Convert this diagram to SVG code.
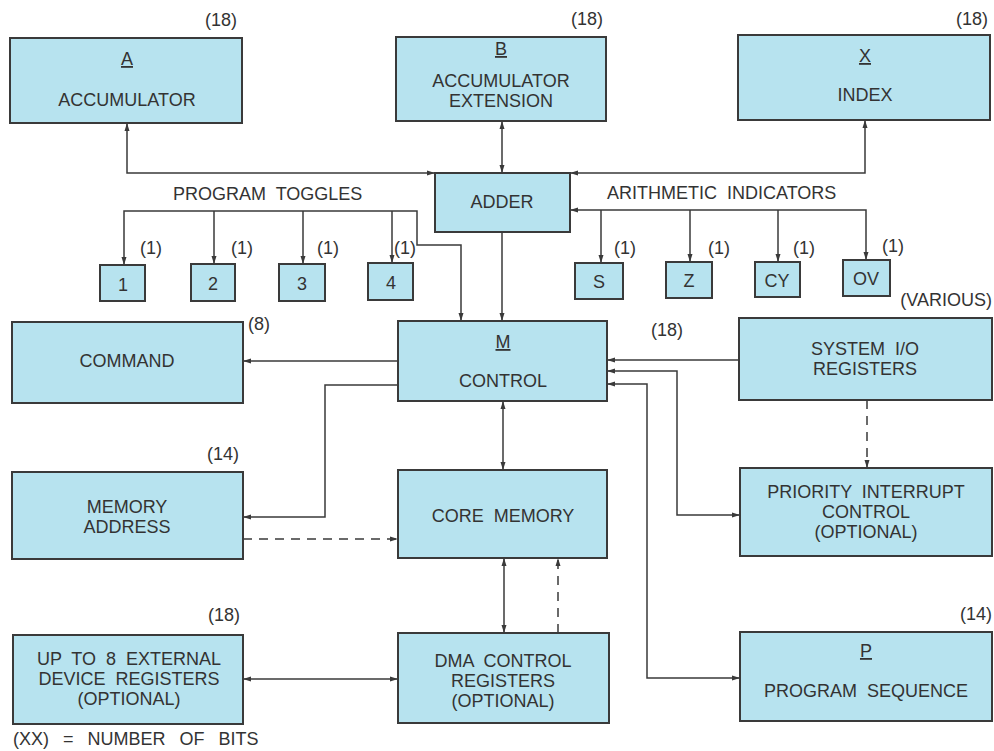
<svg xmlns="http://www.w3.org/2000/svg" width="994" height="751" viewBox="0 0 994 751">
<style>
.bx{fill:#b7e3ef;stroke:#3a3a3a;stroke-width:2}
.t{font-family:"Liberation Sans",Arial,sans-serif;font-size:18px;fill:#333;text-anchor:middle;word-spacing:5px}
.n{font-family:"Liberation Sans",Arial,sans-serif;font-size:18px;fill:#333;word-spacing:5px}
.u{text-decoration:underline}
.c{fill:none;stroke:#3a3a3a;stroke-width:1.5}
.a1{marker-end:url(#ah)}
.a2{marker-start:url(#ah);marker-end:url(#ah)}
.d{stroke-dasharray:9,7}
</style>
<defs>
<marker id="ah" markerUnits="userSpaceOnUse" markerWidth="9" markerHeight="6" refX="8" refY="3" orient="auto-start-reverse">
<path d="M0,0.5 L8,3 L0,5.5 z" fill="#3a3a3a"/>
</marker>
</defs>
<rect width="994" height="751" fill="#fff"/>
<g id="connectors">
<path class="c a2" d="M127,123 V173 H435"/>
<path class="c a2" d="M502,121 V173"/>
<path class="c a2" d="M865,120 V173 H570"/>
<path class="c a2" d="M124,265 V211 H417 V245 H461 V321"/>
<path class="c a1" d="M214,211 V264"/>
<path class="c a1" d="M303,211 V264"/>
<path class="c a1" d="M392,211 V263"/>
<path class="c a2" d="M866,260 V210 H570"/>
<path class="c a1" d="M601,210 V263"/>
<path class="c a1" d="M690,210 V262"/>
<path class="c a1" d="M778,210 V262"/>
<path class="c a1" d="M502,232 V321"/>
<path class="c a1" d="M398,361 H243"/>
<path class="c a1" d="M398,385 H325 V517 H243"/>
<path class="c a1 d" d="M243,539 H398"/>
<path class="c a2" d="M503,401 V470"/>
<path class="c a2" d="M504,558 V633"/>
<path class="c a1 d" d="M558,633 V558"/>
<path class="c a2" d="M243,679 H398"/>
<path class="c a1" d="M739,360 H607"/>
<path class="c a2" d="M607,371 H677 V515 H740"/>
<path class="c a2" d="M607,384 H647 V678 H740"/>
<path class="c a1 d" d="M867,400 V468"/>
</g>
<g id="A"><rect class="bx" x="10" y="38" width="232" height="85"/><text class="t u" x="127" y="65">A</text><text class="t" x="127" y="106">ACCUMULATOR</text><text class="n" x="205" y="26">(18)</text></g>
<g id="B"><rect class="bx" x="396" y="37" width="210" height="84"/><text class="t u" x="501" y="55">B</text><text class="t" x="501" y="87">ACCUMULATOR</text><text class="t" x="501" y="107">EXTENSION</text><text class="n" x="571" y="25">(18)</text></g>
<g id="X"><rect class="bx" x="738" y="35" width="252" height="85"/><text class="t u" x="865" y="62">X</text><text class="t" x="865" y="101">INDEX</text><text class="n" x="956" y="25">(18)</text></g>
<g id="ADDER"><rect class="bx" x="435" y="173" width="135" height="59"/><text class="t" x="502" y="208">ADDER</text></g>
<g id="program-toggles-label"><text class="n" x="173" y="200">PROGRAM TOGGLES</text></g>
<g id="arith-label"><text class="n" x="607" y="199">ARITHMETIC INDICATORS</text></g>
<g id="T1"><rect class="bx" x="100" y="265" width="45" height="36"/><text class="t" x="123" y="291">1</text><text class="n" x="140" y="254">(1)</text></g>
<g id="T2"><rect class="bx" x="191" y="264" width="44" height="37"/><text class="t" x="213" y="290">2</text><text class="n" x="231" y="254">(1)</text></g>
<g id="T3"><rect class="bx" x="279" y="264" width="46" height="37"/><text class="t" x="302" y="290">3</text><text class="n" x="317" y="254">(1)</text></g>
<g id="T4"><rect class="bx" x="368" y="263" width="45" height="37"/><text class="t" x="391" y="289">4</text><text class="n" x="394" y="254">(1)</text></g>
<g id="S"><rect class="bx" x="575" y="263" width="48" height="36"/><text class="t" x="599" y="288">S</text><text class="n" x="614" y="254">(1)</text></g>
<g id="Z"><rect class="bx" x="666" y="262" width="46" height="36"/><text class="t" x="689" y="287">Z</text><text class="n" x="708" y="254">(1)</text></g>
<g id="CY"><rect class="bx" x="755" y="262" width="45" height="35"/><text class="t" x="777" y="287">CY</text><text class="n" x="793" y="254">(1)</text></g>
<g id="OV"><rect class="bx" x="843" y="260" width="47" height="36"/><text class="t" x="866" y="285">OV</text><text class="n" x="882" y="252">(1)</text></g>
<g id="COMMAND"><rect class="bx" x="12" y="322" width="231" height="81"/><text class="t" x="127" y="367">COMMAND</text><text class="n" x="248" y="330">(8)</text></g>
<g id="M"><rect class="bx" x="398" y="321" width="209" height="80"/><text class="t u" x="503" y="348">M</text><text class="t" x="503" y="387">CONTROL</text><text class="n" x="651" y="336">(18)</text></g>
<g id="SYSIO"><rect class="bx" x="739" y="318" width="253" height="82"/><text class="t" x="865" y="355">SYSTEM I/O</text><text class="t" x="865" y="375">REGISTERS</text><text class="n" x="992" y="306" text-anchor="end">(VARIOUS)</text></g>
<g id="MEMADDR"><rect class="bx" x="12" y="472" width="231" height="87"/><text class="t" x="127" y="513">MEMORY</text><text class="t" x="127" y="533">ADDRESS</text><text class="n" x="207" y="460">(14)</text></g>
<g id="CORE"><rect class="bx" x="398" y="470" width="209" height="88"/><text class="t" x="503" y="522">CORE MEMORY</text></g>
<g id="PRIORITY"><rect class="bx" x="740" y="468" width="252" height="88"/><text class="t" x="866" y="498">PRIORITY INTERRUPT</text><text class="t" x="866" y="518">CONTROL</text><text class="t" x="866" y="538">(OPTIONAL)</text></g>
<g id="EXT"><rect class="bx" x="13" y="635" width="230" height="89"/><text class="t" x="129" y="665">UP TO 8 EXTERNAL</text><text class="t" x="129" y="685">DEVICE REGISTERS</text><text class="t" x="129" y="705">(OPTIONAL)</text><text class="n" x="208" y="621">(18)</text></g>
<g id="DMA"><rect class="bx" x="398" y="633" width="211" height="90"/><text class="t" x="503" y="667">DMA CONTROL</text><text class="t" x="503" y="687">REGISTERS</text><text class="t" x="503" y="707">(OPTIONAL)</text></g>
<g id="P"><rect class="bx" x="740" y="632" width="252" height="89"/><text class="t u" x="866" y="657">P</text><text class="t" x="866" y="697">PROGRAM SEQUENCE</text><text class="n" x="992" y="620" text-anchor="end">(14)</text></g>
<g id="legend"><text class="n" x="13" y="745" style="word-spacing:9px">(XX) = NUMBER OF BITS</text></g>
</svg>
